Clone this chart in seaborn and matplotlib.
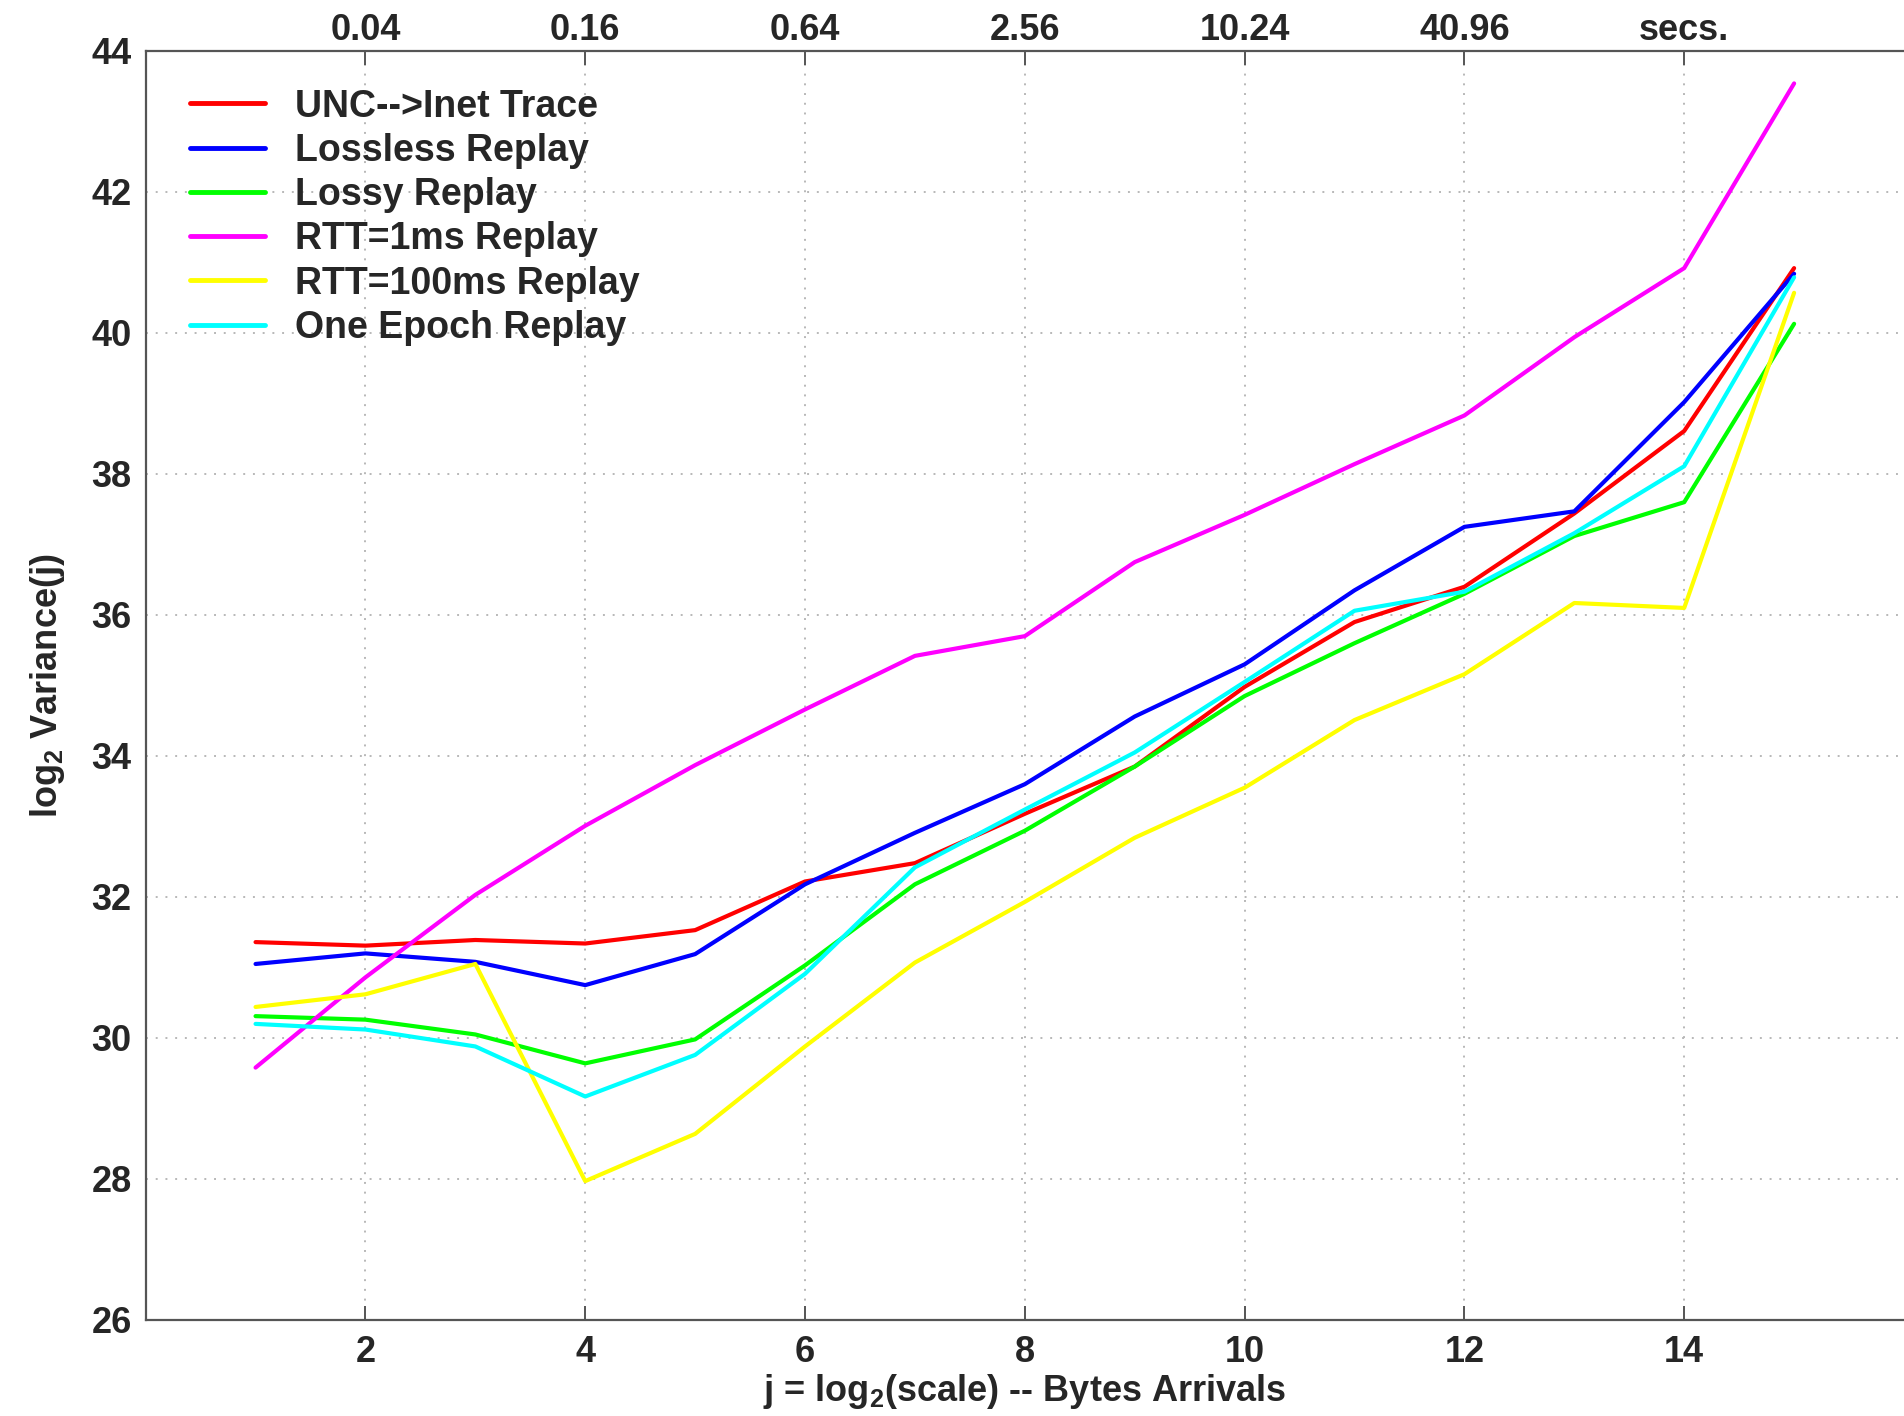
import numpy as np
import pandas as pd
import seaborn as sns
import matplotlib.pyplot as plt

# ----------------------------
# data
# ----------------------------
scales = list(range(1, 16))

unc_trace = [31.36, 31.31, 31.39, 31.34, 31.53, 32.22, 32.48, 33.18, 33.85, 34.98, 35.90, 36.40, 37.44, 38.61, 40.92]
lossless = [31.05, 31.20, 31.08, 30.75, 31.19, 32.18, 32.91, 33.60, 34.56, 35.30, 36.35, 37.25, 37.47, 39.02, 40.84]
lossy = [30.31, 30.26, 30.05, 29.64, 29.98, 31.03, 32.18, 32.94, 33.85, 34.85, 35.60, 36.30, 37.12, 37.60, 40.13]
rtt_1ms = [29.58, 30.86, 32.03, 33.01, 33.87, 34.66, 35.42, 35.70, 36.75, 37.42, 38.14, 38.83, 39.94, 40.92, 43.54]
rtt_100ms = [30.44, 30.62, 31.05, 27.97, 28.64, 29.88, 31.07, 31.93, 32.84, 33.55, 34.51, 35.16, 36.17, 36.10, 40.57]
one_epoch = [30.20, 30.12, 29.88, 29.17, 29.76, 30.91, 32.42, 33.24, 34.05, 35.05, 36.06, 36.33, 37.16, 38.11, 40.79]

series_names = ["UNC-->Inet Trace", "Lossless Replay", "Lossy Replay",
                "RTT=1ms Replay", "RTT=100ms Replay", "One Epoch Replay"]
series_colors = ["#ff0000", "#0000ff", "#00ff00", "#ff00ff", "#ffff00", "#00ffff"]

top_ticks = [2, 4, 6, 8, 10, 12, 14]
top_labels = ["0.04", "0.16", "0.64", "2.56", "10.24", "40.96", "secs."]

# ----------------------------
# long-form frame for seaborn
# ----------------------------
all_vals = [unc_trace, lossless, lossy, rtt_1ms, rtt_100ms, one_epoch]
df = pd.concat([
    pd.DataFrame({"j": scales, "var": vals, "series": name})
    for name, vals in zip(series_names, all_vals)
], ignore_index=True)

# ----------------------------
# style
# ----------------------------
sns.set_theme(style="white")
plt.rcParams["font.family"] = ["Liberation Sans", "DejaVu Sans"]
plt.rcParams["font.weight"] = "bold"
plt.rcParams["mathtext.fontset"] = "custom"
plt.rcParams["mathtext.bf"] = "Liberation Sans:bold"
plt.rcParams["mathtext.rm"] = "Liberation Sans:bold"
plt.rcParams["mathtext.default"] = "bf"

fig = plt.figure(figsize=(19.04, 14.16), dpi=100)
ax = fig.add_axes([0.0765, 0.0678, 0.9235, 0.8962])

sns.lineplot(data=df, x="j", y="var", hue="series", hue_order=series_names,
             palette=series_colors, linewidth=3.0, ax=ax, legend=True)

ax.set_xlim(0, 16)
ax.set_ylim(26, 44)
ax.set_xticks([2, 4, 6, 8, 10, 12, 14])
ax.set_yticks(np.arange(26, 45, 2))

ax.grid(True, linestyle=(0, (1, 4)), color="#b8b8b8", linewidth=1.4)
for side in ["left", "bottom", "top"]:
    ax.spines[side].set_color("#555555")
    ax.spines[side].set_linewidth(1.6)
ax.spines["right"].set_visible(False)

ax.tick_params(axis="both", direction="in", length=10, width=1.4, color="#555555",
               labelsize=26)
ax.tick_params(axis="x", pad=11)
ax.tick_params(axis="y", pad=10)
for lbl in ax.get_xticklabels() + ax.get_yticklabels():
    lbl.set_fontweight("bold")

ax.set_xlabel("j = log$_2$(scale) -- Bytes Arrivals", fontsize=26, fontweight="bold", labelpad=1)
ax.set_ylabel("log$_2$ Variance(j)", fontsize=26, fontweight="bold", labelpad=18)

# top axis with time scale
ax_top = ax.twiny()
ax_top.set_xlim(ax.get_xlim())
ax_top.set_xticks(top_ticks)
ax_top.set_xticklabels(top_labels, fontsize=26, fontweight="bold")
ax_top.tick_params(axis="x", direction="in", length=10, width=1.4, color="#555555", pad=2)
for s in ax_top.spines.values():
    s.set_visible(False)

leg = ax.legend(loc="upper left", bbox_to_anchor=(0.006, 0.997), frameon=False,
                fontsize=27, handlelength=2.0, handletextpad=0.8, labelspacing=0.22)
for line in leg.get_lines():
    line.set_linewidth(3.5)
for txt in leg.get_texts():
    txt.set_fontweight("bold")

fig.savefig("out.png", dpi=100)
